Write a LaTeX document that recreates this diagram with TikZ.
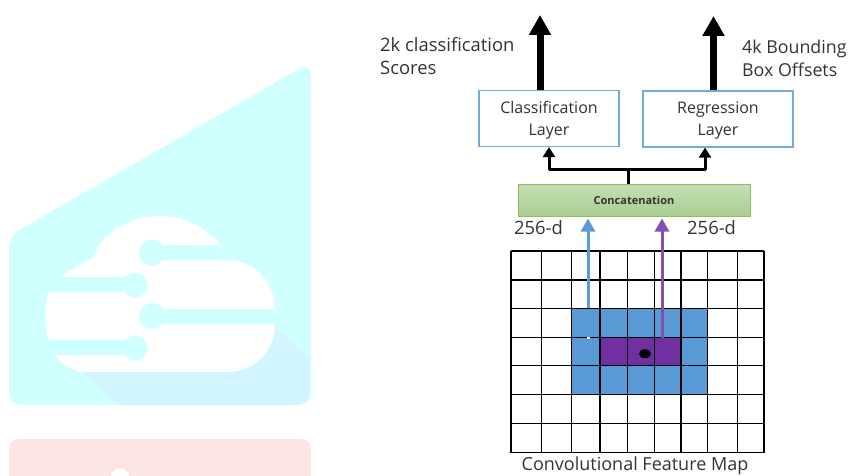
\documentclass[tikz,border=0pt]{standalone}
\usepackage{fontspec}
\setmainfont{Open Sans}
\usetikzlibrary{arrows.meta}
\definecolor{logocyan}{HTML}{CFFFFF}
\definecolor{logoshade}{HTML}{D2F5FF}
\definecolor{logored}{HTML}{FDE5E5}
\definecolor{boxblue}{HTML}{5B9BD5}
\definecolor{cellpurple}{HTML}{7030A0}
\definecolor{concatgreen}{HTML}{70AD47}
\definecolor{labelgray}{HTML}{333333}
\tikzset{layer/.style = {draw = boxblue!85!white, line width = 1.2pt, fill = white, minimum height = 56pt, align = center, text = labelgray, font = \fontsize{16}{22}\selectfont},
         caption/.style = {text = labelgray, align = left, inner sep = 0pt, font = \fontsize{18.4}{23}\selectfont},
         bigarrow/.style = {line width = 7pt, -{Triangle[length = 20pt, width = 21pt]}},
         smallarrow/.style = {line width = 3pt, line join = round, -{Triangle[length = 10pt, width = 12pt]}},
         featarrow/.style = {line width = 3pt, -{Triangle[length = 13pt, width = 14pt]}},
         traceline/.style = {line width = 15pt, draw = logocyan}}

\begin{document}
\begin{tikzpicture}[x = 1pt, y = -1pt]
\useasboundingbox (0,0) rectangle (848,476);

% logo
\fill[logored, rounded corners = 10pt] (9,439) rectangle (311,500);
\fill[white] (120,478) circle (9.5);
\fill[logocyan, rounded corners = 12pt] (9,405) -- (9,236) -- (311,62) -- (311,405) -- cycle;
\begin{scope}
\clip[rounded corners = 12pt] (9,405) -- (9,236) -- (311,62) -- (309,405) -- cycle;
\fill[logoshade] (80,370) -- (118,405) -- (312,405) -- (312,362) -- (275,325) -- cycle;
\end{scope}
\fill[white] (60,277) -- (93,257) .. controls (103,232) and (130,216) .. (160,216)
  .. controls (185,216) and (208,228) .. (221,246) -- (236,261)
  .. controls (258,264) and (275,285) .. (275,310) -- (275,324)
  .. controls (275,352) and (253,372) .. (227,372) -- (80,372)
  .. controls (65,368) and (55,358) .. (50,345) .. controls (44,328) and (44,305) .. (49,290) -- cycle;
\draw[traceline] (152,252.5) -- (240,253);
\fill[logocyan] (152,252.5) circle (13);
\draw[traceline] (135,284) -- (45,284);
\fill[logocyan] (135,285) circle (12.5);
\draw[traceline] (152,316.5) -- (275.5,316.5);
\fill[logocyan] (152,316) circle (13);
\draw[traceline] (135,347.5) -- (48,347.5);
\fill[logocyan] (135,348) circle (12.5);

% feature map
\fill[boxblue] (571.7,308.3) rectangle (707.7,394.3);
\fill[cellpurple] (600,337.7) rectangle (681,365.7);
\foreach \x in {511,541.7,571.7,600,627.7,654.3,681,707.7,737.7,764}
  \draw[line width = 1.1pt] (\x,251) -- (\x,452.7);
\foreach \y in {251,280,308.3,337.7,365.7,394.3,423.3,452.7}
  \draw[line width = 1.1pt] (511,\y) -- (764,\y);
\fill[black] (645,353.7) ellipse (6 and 4.5);
\node[caption, anchor = center, font = \fontsize{18}{23}\selectfont] (maplabel) at (635,465.5) {Convolutional Feature Map};

% layers
\node[layer, minimum width = 140pt, text depth = 0pt] (classif) at (549,118.5) {Classification\\Layer};
\node[layer, minimum width = 150pt, text depth = 0pt] (regress) at (718,119) {Regression\\Layer};
\node[draw = concatgreen!80!white, line width = 1pt, top color = concatgreen!40!white, bottom color = concatgreen!60!white, minimum width = 232pt, minimum height = 32pt, inner sep = 0pt, text = labelgray, font = \fontsize{11}{12}\selectfont\bfseries] (concat) at (634,200) {Concatenation};

% captions
\node[caption, anchor = north west] (scorelabel) at (380,37) {2k classification\\Scores};
\node[caption, anchor = north west, font = \fontsize{17.8}{23}\selectfont] (boxlabel) at (742,40) {4k Bounding\\Box Offsets};
\node[caption, anchor = east] (blued) at (563,228) {256-d};
\node[caption, anchor = west] (purpled) at (687,228) {256-d};

% arrows
\coordinate (scoretip) at (540,15);
\coordinate (boxtip) at (713.5,16);
\draw[bigarrow] (scoretip |- classif.north) -- (scoretip);
\draw[bigarrow] (boxtip |- regress.north) -- (boxtip);
\coordinate (joint) at (628.5,169);
\draw[line width = 3pt] (joint |- concat.north) -- (joint);
\draw[smallarrow] (joint) -| (classif.south);
\draw[smallarrow] (joint) -| ([xshift = -13pt]regress.south);
\coordinate (bluefoot) at (588,308.3);
\coordinate (purplefoot) at (662,337.7);
\draw[featarrow, boxblue] (bluefoot) -- (bluefoot |- 0,218.5);
\draw[featarrow, cellpurple!85!white] (purplefoot) -- (purplefoot |- 0,218.5);
\draw[white, line width = 2pt] (586.5,337.7) -- (589.5,337.7);
\end{tikzpicture}
\end{document}
